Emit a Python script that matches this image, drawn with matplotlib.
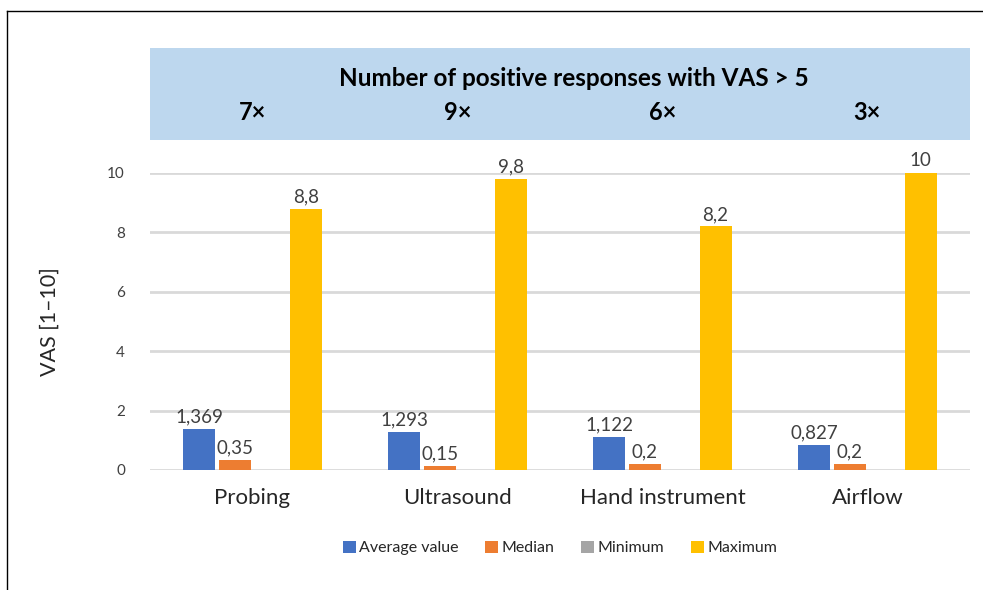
import numpy as np
import matplotlib
matplotlib.use("Agg")
import matplotlib.pyplot as plt
from matplotlib.patches import Rectangle
from matplotlib.lines import Line2D

plt.rcParams['font.family'] = ['Lato', 'DejaVu Sans']

# data
categories = ["Probing", "Ultrasound", "Hand instrument", "Airflow"]
average_value = [1.369, 1.293, 1.122, 0.827]
median = [0.35, 0.15, 0.2, 0.2]
minimum = [0, 0, 0, 0]
maximum = [8.8, 9.8, 8.2, 10]
positive_counts = ["7×", "9×", "6×", "3×"]

series_names = ["Average value", "Median", "Minimum", "Maximum"]
series_values = [average_value, median, minimum, maximum]
series_colors = ["#4472C4", "#ED7D31", "#A5A5A5", "#FFC000"]
label_texts = [
    ["1,369", "1,293", "1,122", "0,827"],
    ["0,35", "0,15", "0,2", "0,2"],
    None,
    ["8,8", "9,8", "8,2", "10"],
]

fig = plt.figure(figsize=(9.83, 5.90), dpi=100)
ax = fig.add_axes([0.1526, 0.2034, 0.834, 0.5034])

x = np.arange(len(categories))
step = 0.173
width = 0.156
for i, (name, vals, col) in enumerate(zip(series_names, series_values, series_colors)):
    pos = x + (i - 1.5) * step
    bars = ax.bar(pos, vals, width=width, color=col, label=name, zorder=3)
    if label_texts[i] is not None:
        for b, t in zip(bars, label_texts[i]):
            ax.text(b.get_x() + b.get_width() / 2, b.get_height() + 0.12, t,
                    ha="center", va="bottom", fontsize=13.5, color="#404040",
                    clip_on=False)

ax.set_xlim(-0.5, len(categories) - 0.5)
ax.set_ylim(0, 10)
ax.set_yticks([0, 2, 4, 6, 8, 10])
ax.yaxis.grid(True, color="#D9D9D9", linewidth=2, zorder=0)
ax.set_axisbelow(True)
for s in ax.spines.values():
    s.set_visible(False)
ax.tick_params(axis="y", length=0, pad=18, labelsize=11, labelcolor="#404040")
ax.tick_params(axis="x", length=0, pad=13, labelsize=16, labelcolor="#262626")
ax.set_xticks(x)
ax.set_xticklabels(categories)
ax.set_ylabel("VAS [1–10]", fontsize=15.5, color="#262626", labelpad=34)

# header box
hdr = fig.add_axes([0.1526, 0.7627, 0.834, 0.156])
hdr.set_xlim(-0.5, len(categories) - 0.5)
hdr.set_ylim(0, 1)
hdr.axis("off")
hdr.add_patch(Rectangle((0, 0), 1, 1, transform=hdr.transAxes,
                        facecolor="#BDD7EE", edgecolor="none"))
hdr.text(1.5 + 0.07, 0.665, "Number of positive responses with VAS > 5",
         ha="center", va="center", fontsize=17.5, fontweight="bold", color="black")
for xi, c in zip(x, positive_counts):
    hdr.text(xi, 0.3, c, ha="center", va="center", fontsize=17,
             fontweight="bold", color="black")

ax.legend(loc="upper center", bbox_to_anchor=(0.5, -0.19), ncol=4, frameon=False,
          fontsize=11.5, handlelength=0.8, handleheight=0.8, handletextpad=0.2,
          columnspacing=1.7, labelcolor="#262626")

# outer frame lines
fig.add_artist(Line2D([7 / 983, 7 / 983], [0, 1 - 11 / 590], color="black", linewidth=1))
fig.add_artist(Line2D([7 / 983, 1], [1 - 11 / 590, 1 - 11 / 590], color="black", linewidth=1))

fig.savefig("out.png", dpi=100)
